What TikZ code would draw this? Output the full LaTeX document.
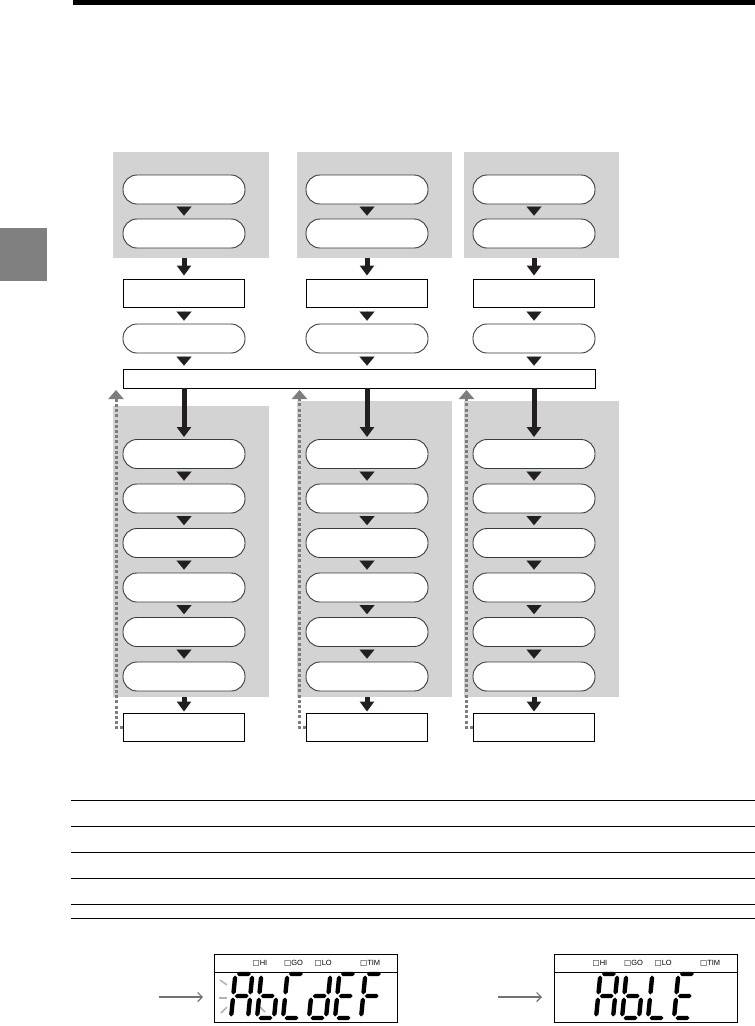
\documentclass[tikz,border=0pt]{standalone}
\usepackage{fontspec}
\setsansfont{Liberation Sans}
\newfontfamily\symfont{DejaVu Sans}
\usetikzlibrary{arrows.meta,calc}
\definecolor{panelgray}{RGB}{211,211,211}
\definecolor{pillline}{RGB}{58,58,58}
\definecolor{arrowblack}{RGB}{35,31,32}
\definecolor{dotgray}{RGB}{125,125,125}
\definecolor{tabgray}{RGB}{128,128,128}
\newcommand\ssA{1.5/44/15.5/44,17/42.5/17/23.5,17/20.5/17/1.5,0/1.5/0/20.5,0/23.5/0/42.5,1.5/22/15.5/22}
\newcommand\ssb{17/20.5/17/1.5,1.5/0/15.5/0,0/1.5/0/20.5,0/23.5/0/42.5,1.5/22/15.5/22}
\newcommand\ssC{1.5/44/15.5/44,1.5/0/15.5/0,0/1.5/0/20.5,0/23.5/0/42.5}
\newcommand\ssd{17/42.5/17/23.5,17/20.5/17/1.5,1.5/0/15.5/0,0/1.5/0/20.5,1.5/22/15.5/22}
\newcommand\ssE{1.5/44/15.5/44,1.5/0/15.5/0,0/1.5/0/20.5,0/23.5/0/42.5,1.5/22/15.5/22}
\newcommand\ssF{1.5/44/15.5/44,0/1.5/0/20.5,0/23.5/0/42.5,1.5/22/15.5/22}
\newcommand\ssL{1.5/0/15.5/0,0/1.5/0/20.5,0/23.5/0/42.5}
\newcommand\sevdig[3]{\begin{scope}[shift={(#1,#2)},x=1pt,y=1pt,xslant=0.1]\foreach \ua/\va/\ub/\vb in #3 {\fill[black] (\ua,\va) -- ($(\ua,\va)!3.1pt!45:(\ub,\vb)$) -- ($(\ub,\vb)!3.1pt!-45:(\ua,\va)$) -- (\ub,\vb) -- ($(\ub,\vb)!3.1pt!45:(\ua,\va)$) -- ($(\ua,\va)!3.1pt!-45:(\ub,\vb)$) -- cycle;}\end{scope}}
\begin{document}
\begin{tikzpicture}[x=1pt,y=-1pt,
  panel/.style={fill=panelgray,draw=none,inner sep=0,anchor=north west},
  pill/.style={draw=pillline,line width=0.9pt,fill=white,rounded corners=14pt,minimum width=122pt,minimum height=29pt,inner sep=0},
  stepbox/.style={draw=black,line width=0.9pt,fill=white,minimum width=121pt,minimum height=28pt,inner sep=0},
  tri/.style={-{Triangle[width=15pt,length=9pt]},line width=0.01pt,draw=arrowblack,shorten <=3pt,shorten >=3pt},
  big/.style={-{Triangle[width=14pt,length=10pt]},line width=5pt,draw=arrowblack},
  back/.style={-{Triangle[width=15pt,length=9pt]},draw=dotgray,line width=3pt,dash pattern=on 3pt off 2.2pt},
  blink/.style={line width=1.5pt,draw=black!30},
  lcd/.style={draw=black,line width=0.9pt,minimum width=183pt,minimum height=68pt,anchor=north west,inner sep=0},
  lcdlab/.style={anchor=west,inner sep=0,font=\sffamily\fontsize{7.5}{8}\selectfont},
  lcdarr/.style={-{Straight Barb[length=4.5pt,width=9pt]},draw=black!55,line width=1.2pt},
  rule/.style={line width=1pt,draw=black}]
\path[use as bounding box] (0,0) rectangle (755,1026);
% page decorations
\fill[black] (73,0) rectangle (755,4.5);
\fill[tabgray] (0,228) rectangle (47,281);
% panels
\node[panel,minimum width=156pt,minimum height=106pt] (PT1) at (113,152) {};
\node[panel,minimum width=155pt,minimum height=106pt] (PT2) at (297,152) {};
\node[panel,minimum width=155pt,minimum height=106pt] (PT3) at (464,152) {};
\node[panel,minimum width=156pt,minimum height=291pt] (PL1) at (113,406) {};
\node[panel,minimum width=155pt,minimum height=296pt] (PL2) at (297,401) {};
\node[panel,minimum width=155pt,minimum height=296pt] (PL3) at (464,401) {};
% wide box
\node[stepbox,minimum width=472pt,minimum height=19pt] (W) at (359,378.5) {};
% columns
\foreach \c/\X/\dx in {1/184/116,2/367/299.5,3/534/466.5} {
  \node[pill] (T1\c) at (\X,189.5) {};
  \node[pill] (T2\c) at (\X,233.5) {};
  \node[stepbox] (R\c) at (\X,293) {};
  \node[pill] (T3\c) at (\X,338.5) {};
  \node[pill] (L1\c) at (\X,454) {};
  \node[pill] (L2\c) at (\X,498.5) {};
  \node[pill] (L3\c) at (\X,543) {};
  \node[pill] (L4\c) at (\X,587.5) {};
  \node[pill] (L5\c) at (\X,632) {};
  \node[pill] (L6\c) at (\X,676.5) {};
  \node[stepbox] (B\c) at (\X,727.5) {};
  \coordinate (up\c) at (\dx,390);
  \draw[tri] (T1\c) -- (T2\c);
  \draw[big,shorten >=3pt] (PT\c.south -| R\c.north) -- (R\c.north);
  \draw[tri] (R\c) -- (T3\c);
  \draw[tri] (T3\c.south) -- (T3\c.south |- W.north);
  \draw[big,shorten >=2pt] (L1\c.north |- W.south) -- (L1\c.north);
  \draw[tri] (L1\c) -- (L2\c);
  \draw[tri] (L2\c) -- (L3\c);
  \draw[tri] (L3\c) -- (L4\c);
  \draw[tri] (L4\c) -- (L5\c);
  \draw[tri] (L5\c) -- (L6\c);
  \draw[big,shorten >=1.5pt] (PL\c.south -| B\c.north) -- (B\c.north);
  \draw[back] (B\c.west) -| (up\c);
}
% table rules
\foreach \yy/\nm in {800.5/r1,826.5/r2,852.5/r3,878.5/r4,904.5/r5,918.5/r6} {
  \coordinate (\nm a) at (71,\yy);
  \coordinate (\nm b) at (755,\yy);
  \draw[rule] (\nm a) -- (\nm b);
}
% LCD displays
\node[lcd] (LCD1) at (214,954) {};
\node[lcd] (LCD2) at (554,954) {};
\foreach \n in {1,2} {
  \draw[line width=0.9pt] ($(LCD\n.north west)+(0,18)$) -- ($(LCD\n.north east)+(0,18)$);
}
\foreach \n/\ox in {1/214,2/554} {
  \node[lcdlab] (hi\n) at (\ox+38.5,963.5) {{\symfont □}HI};
  \node[lcdlab] (go\n) at (\ox+70,963.5) {{\symfont □}GO};
  \node[lcdlab] (lo\n) at (\ox+100.5,963.5) {{\symfont □}LO};
  \node[lcdlab] (tim\n) at (\ox+146,963.5) {{\symfont □}TIM};
}
\coordinate (a1s) at (159,997);
\coordinate (a1e) at (203,997);
\coordinate (a2s) at (498,997);
\coordinate (a2e) at (542,997);
\draw[lcdarr] (a1s) -- (a1e);
\draw[lcdarr] (a2s) -- (a2e);
% blinking marks
\draw[blink] (220,980) -- (227,985);
\draw[blink] (219,998) -- (227,998);
\draw[blink] (221,1013) -- (227,1007);
\draw[blink] (259,1006) -- (265,1012);
% digits AbCdEF
\sevdig{231}{1018}{\ssA}
\sevdig{257}{1018}{\ssb}
\sevdig{283}{1018}{\ssC}
\sevdig{309}{1018}{\ssd}
\sevdig{335}{1018}{\ssE}
\sevdig{361}{1018}{\ssF}
% digits AbLE
\sevdig{596}{1018}{\ssA}
\sevdig{622}{1018}{\ssb}
\sevdig{648}{1018}{\ssL}
\sevdig{674}{1018}{\ssE}
\end{tikzpicture}
\end{document}
